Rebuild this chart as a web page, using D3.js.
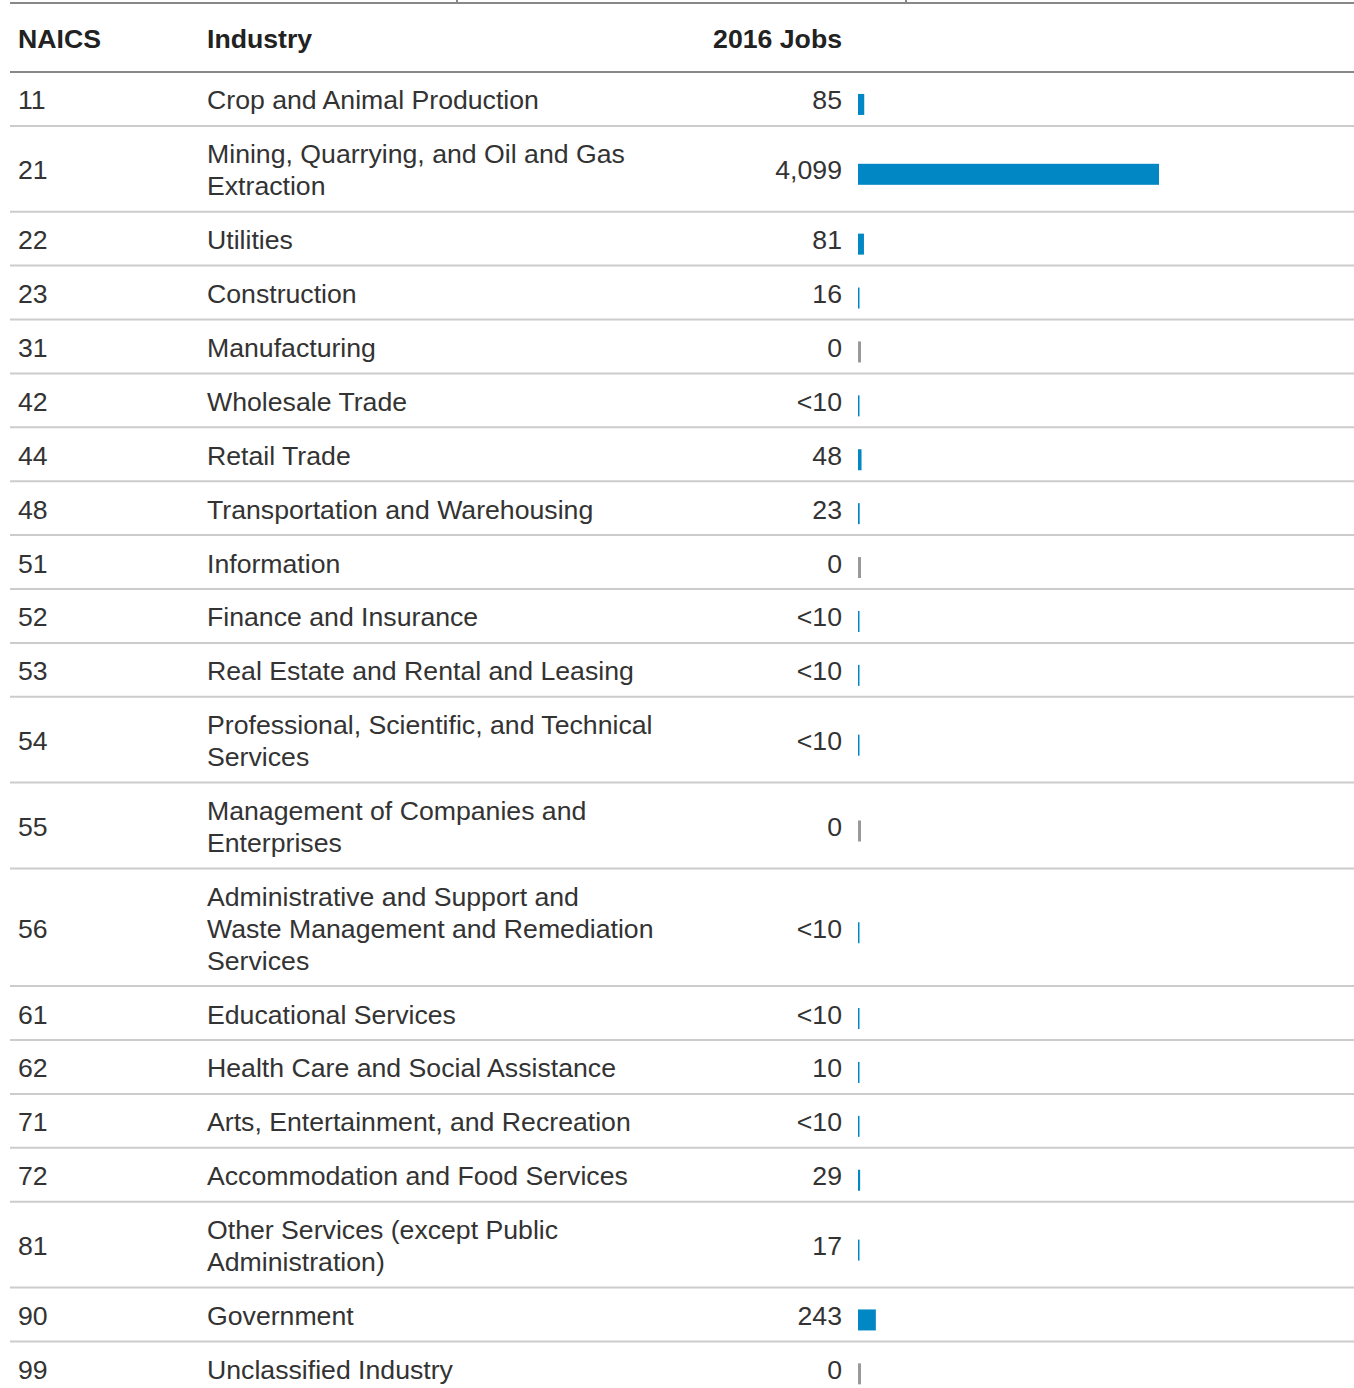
<!DOCTYPE html>
<html>
<head>
<meta charset="utf-8">
<script src="https://d3js.org/d3.v7.min.js"></script>
<style>
  body { margin: 0; background: #fff; }
  svg text { font-family: "Liberation Sans", Arial, sans-serif; fill: #333; }
</style>
</head>
<body>
<svg id="chart" width="1354" height="1388"></svg>
<script>
// table data
var headers = ["NAICS", "Industry", "2016 Jobs"];
var naics = ["11","21","22","23","31","42","44","48","51","52","53","54","55","56","61","62","71","72","81","90","99"];
var industries = [
  "Crop and Animal Production",
  "Mining, Quarrying, and Oil and Gas\nExtraction",
  "Utilities",
  "Construction",
  "Manufacturing",
  "Wholesale Trade",
  "Retail Trade",
  "Transportation and Warehousing",
  "Information",
  "Finance and Insurance",
  "Real Estate and Rental and Leasing",
  "Professional, Scientific, and Technical\nServices",
  "Management of Companies and\nEnterprises",
  "Administrative and Support and\nWaste Management and Remediation\nServices",
  "Educational Services",
  "Health Care and Social Assistance",
  "Arts, Entertainment, and Recreation",
  "Accommodation and Food Services",
  "Other Services (except Public\nAdministration)",
  "Government",
  "Unclassified Industry"
];
// "<10" rows are suppressed values, estimated as 5
var jobs = [85, 4099, 81, 16, 0, 5, 48, 23, 0, 5, 5, 5, 0, 5, 5, 10, 5, 29, 17, 243, 0];
var jobLabels = ["85","4,099","81","16","0","<10","48","23","0","<10","<10","<10","0","<10","<10","10","<10","29","17","243","0"];

var svg = d3.select("#chart");
var fs = 26.67, lineH = 31.9, pad = 22;
var xCode = 18, xName = 207, xJobs = 842, xBar = 858;

var x = d3.scaleLinear().domain([0, d3.max(jobs)]).range([0, 301]);

// top rule with two small ticks
svg.append("line").attr("x1", 10).attr("x2", 1354).attr("y1", 3).attr("y2", 3)
  .attr("stroke", "#888").attr("stroke-width", 2);
[457, 906].forEach(function(t){
  svg.append("line").attr("x1", t).attr("x2", t).attr("y1", 0).attr("y2", 3)
    .attr("stroke", "#888").attr("stroke-width", 2);
});

// header
var hx = [xCode, xName, xJobs];
headers.forEach(function(h, i){
  svg.append("text").attr("x", hx[i]).attr("y", 47.5)
    .attr("text-anchor", i == 2 ? "end" : "start")
    .style("font-size", fs + "px").style("font-weight", "bold").style("fill", "#222")
    .text(h);
});
svg.append("line").attr("x1", 10).attr("x2", 1354).attr("y1", 72).attr("y2", 72)
  .attr("stroke", "#888").attr("stroke-width", 2);

// rows
var rowTop = 72;
naics.forEach(function(code, i){
  var lines = industries[i].split("\n");
  var h = pad + lineH * lines.length;
  var mid = rowTop + h / 2 + 1;
  var g = svg.append("g");

  g.append("text").attr("x", xCode).attr("y", mid + 9.5)
    .style("font-size", fs + "px").text(code);

  var t = g.append("text").style("font-size", fs + "px");
  lines.forEach(function(l, j){
    t.append("tspan").attr("x", xName)
      .attr("y", mid - (lines.length - 1) * lineH / 2 + j * lineH + 9.5)
      .text(l);
  });

  g.append("text").attr("x", xJobs).attr("y", mid + 9.5)
    .attr("text-anchor", "end").style("font-size", fs + "px").text(jobLabels[i]);

  var v = jobs[i];
  g.append("rect").attr("x", xBar).attr("y", mid - 6).attr("height", 21)
    .attr("width", v == 0 ? 3 : Math.max(1.5, x(v)))
    .attr("fill", v == 0 ? "#999" : "#0087c4");

  rowTop += h;
  if (i < naics.length - 1) {
    svg.append("line").attr("x1", 10).attr("x2", 1354).attr("y1", rowTop).attr("y2", rowTop)
      .attr("stroke", "#ccc").attr("stroke-width", 2);
  }
});
</script>
</body>
</html>
